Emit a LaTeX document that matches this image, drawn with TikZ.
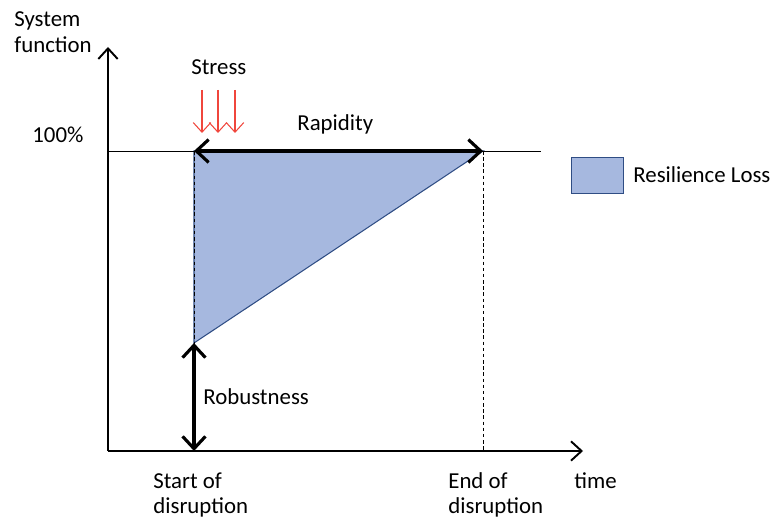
\documentclass[tikz,border=0pt]{standalone}
\usepackage{fontspec}
\setmainfont{Carlito}
\usetikzlibrary{arrows.meta}
\definecolor{lossfill}{HTML}{A6B8DF}
\definecolor{lossedge}{HTML}{2F4D84}
\definecolor{stressred}{HTML}{F0463C}
\begin{document}
\begin{tikzpicture}[x=0.02cm, y=-0.02cm, font=\fontsize{13}{15}\selectfont,
    axis/.style={line width=1.1pt, -{Straight Barb[length=6pt, width=11pt, line width=1.1pt]}},
    span/.style={line width=1.8pt, {Straight Barb[length=7pt, width=13pt, line width=1.8pt]}-{Straight Barb[length=7pt, width=13pt, line width=1.8pt]}},
    stressarrow/.style={stressred, line width=0.6pt, -{Straight Barb[length=5.5pt, width=10pt, line width=0.6pt]}},
    guide/.style={line width=0.5pt, dash pattern=on 2pt off 1.5pt},
    label/.style={inner sep=0, anchor=base west}]
    \useasboundingbox (0,0) rectangle (773,519);
    % Points of the curve:
    \coordinate (O) at (108, 451);
    \coordinate (Ytop) at (108, 47);
    \coordinate (Xend) at (583, 451);
    \coordinate (Full) at (108, 151);
    \coordinate (FullEnd) at (541, 151);
    \coordinate (S) at (194, 151);
    \coordinate (E) at (483, 151);
    \coordinate (Low) at (194, 343);
    \coordinate (Sb) at (194, 451);
    \coordinate (Eb) at (483, 451);
    % Resilience loss triangle:
    \filldraw[fill=lossfill, draw=lossedge, line width=0.6pt] (S) -- (E) -- (Low) -- cycle;
    \draw[line width=0.5pt] (Full) -- (FullEnd);
    \draw[guide] (S) -- (Sb);
    \draw[guide] (E) -- (Eb);
    % Axes:
    \draw[axis] (O) -- (Ytop);
    \draw[axis] (O) -- (Xend);
    % Spans:
    \draw[span] (S) -- (E);
    \draw[span] (Low) -- (Sb);
    % Stress:
    \foreach \sx in {202, 218, 235} {
        \coordinate (st\sx) at (\sx, 90);
        \coordinate (sb\sx) at (\sx, 133);
        \draw[stressarrow] (st\sx) -- (sb\sx);
    }
    % Texts:
    \node[label, align=left, font=\fontsize{13}{15.3}\selectfont] (N1) at (14, 53) {System\\function};
    \node[label] (N2) at (32, 143) {100\%};
    \node[label] (N3) at (191, 75) {Stress};
    \node[label] (N4) at (297, 131) {Rapidity};
    \node[label] (N5) at (203, 405) {Robustness};
    \node[label, align=left, font=\fontsize{13}{14.2}\selectfont] (N6) at (153, 513) {Start of\\disruption};
    \node[label, align=left, font=\fontsize{13}{14.2}\selectfont] (N7) at (448, 513) {End of\\disruption};
    \node[label] (N8) at (574, 488) {time};
    % Legend:
    \node[fill=lossfill, draw=lossedge, line width=0.6pt, minimum width=30pt, minimum height=21pt, inner sep=0] (N9) at (597.5, 175.5) {};
    \node[label] (N10) at (633, 183) {Resilience Loss};
\end{tikzpicture}
\end{document}
